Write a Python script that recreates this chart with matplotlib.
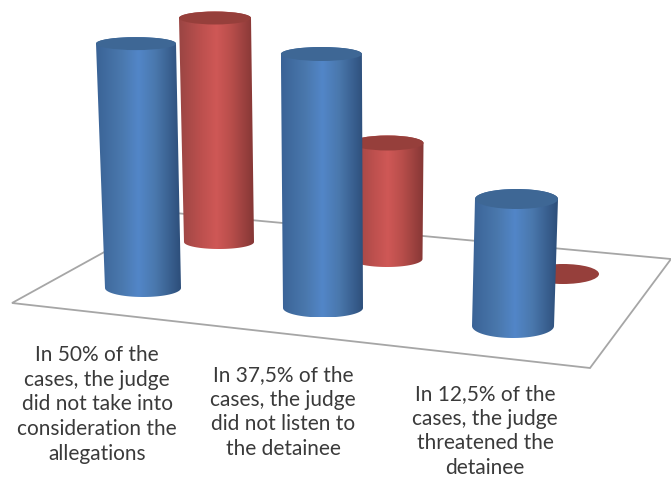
import numpy as np
import matplotlib
matplotlib.use("Agg")
import matplotlib.pyplot as plt
from matplotlib.colors import LinearSegmentedColormap
from matplotlib.patches import Ellipse, PathPatch, Polygon
from matplotlib.path import Path

# Data
categories = [
    ["In 50% of the", "cases, the judge", "did not take into", "consideration the", "allegations"],
    ["In 37,5% of the", "cases, the judge", "did not listen to", "the detainee"],
    ["In 12,5% of the", "cases, the judge", "threatened the", "detainee"],
]
blue_values = [4, 4, 2]
red_values = [4, 2, 0]

# Layout of the perspective scene (pixels)
blue_geo = dict(cx=[143, 323, 513], cy=[288, 308, 326], rx=[38, 40, 41], ry=[9, 9.5, 12],
                unit=[61.1, 63.5, 63.5], lean=[-1.75, -0.4, 1.75], trx=[40, 40.5, 41.5], try_=[6.5, 7, 10])
red_geo = dict(cx=[219, 387, 563], cy=[242, 259, 274], rx=[35, 35.5, 36], ry=[7, 8, 10],
               unit=[56, 58, 58], lean=[-1, 0.25, 0], trx=[36, 36, 36], try_=[6.5, 7.5, 10])
label_x = [97, 283, 485]
label_baseline = [361, 381, 400]
line_step = 24.7
floor = [(12, 303), (175, 213), (671, 259), (590, 368)]

blue_cmap = LinearSegmentedColormap.from_list("b", [(0, "#3a6396"), (0.3, "#4a78ad"), (0.5, "#5286c8"), (0.7, "#4a78ad"), (1, "#2d4e7a")])
red_cmap = LinearSegmentedColormap.from_list("r", [(0, "#9a4543"), (0.3, "#bd504e"), (0.5, "#cf5856"), (0.7, "#b84e4b"), (1, "#853735")])
BLUE_TOP, RED_TOP = "#3e6795", "#963f3b"

fig = plt.figure(figsize=(6.71, 4.79), dpi=100)
ax = fig.add_axes([0, 0, 1, 1])
ax.axis("off")

ax.add_patch(Polygon(floor, closed=True, fc="white", ec="#a6a6a6", lw=1.3, zorder=1))


def arc(cx, cy, rx, ry, a0, a1, n=40):
    t = np.radians(np.linspace(a0, a1, n))
    return np.c_[cx + rx * np.cos(t), cy + ry * np.sin(t)]


def cylinder(value, g, i, cmap, top_color, z):
    cx, cy, rx, ry = g["cx"][i], g["cy"][i], g["rx"][i], g["ry"][i]
    if value == 0:
        ax.add_patch(Ellipse((cx, cy), 2 * rx, 2 * ry, fc=top_color, ec="none", zorder=z))
        return
    tcx = cx + g["lean"][i] * value
    tcy = cy - g["unit"][i] * value
    trx, tr_y = g["trx"][i], g["try_"][i]
    bottom = arc(cx, cy, rx, ry, 180, 0)
    top = arc(tcx, tcy, trx, tr_y, 0, -180)
    pts = np.vstack([bottom, top, bottom[:1]])
    patch = PathPatch(Path(pts), fc="none", ec="none", zorder=z)
    ax.add_patch(patch)
    left, right = min(cx - rx, tcx - trx), max(cx + rx, tcx + trx)
    im = ax.imshow(np.linspace(0, 1, 256)[None, :], cmap=cmap, aspect="auto",
                   extent=[left, right, cy + ry, tcy - tr_y], zorder=z, interpolation="bilinear")
    im.set_clip_path(patch)
    ax.add_patch(Ellipse((tcx, tcy), 2 * trx, 2 * tr_y, fc=top_color, ec="none", zorder=z + 0.1))


for i, v in enumerate(red_values):
    cylinder(v, red_geo, i, red_cmap, RED_TOP, 2 + i * 0.2)
for i, v in enumerate(blue_values):
    cylinder(v, blue_geo, i, blue_cmap, BLUE_TOP, 3 + i * 0.2)

for x, y, lines in zip(label_x, label_baseline, categories):
    for k, line in enumerate(lines):
        ax.text(x, y + k * line_step, line, ha="center", va="baseline", fontsize=15,
                family="Lato", color="#3a3a3a", zorder=5)

ax.set_xlim(0, 671)
ax.set_ylim(479, 0)
fig.savefig("out.png", dpi=100, facecolor="white")
